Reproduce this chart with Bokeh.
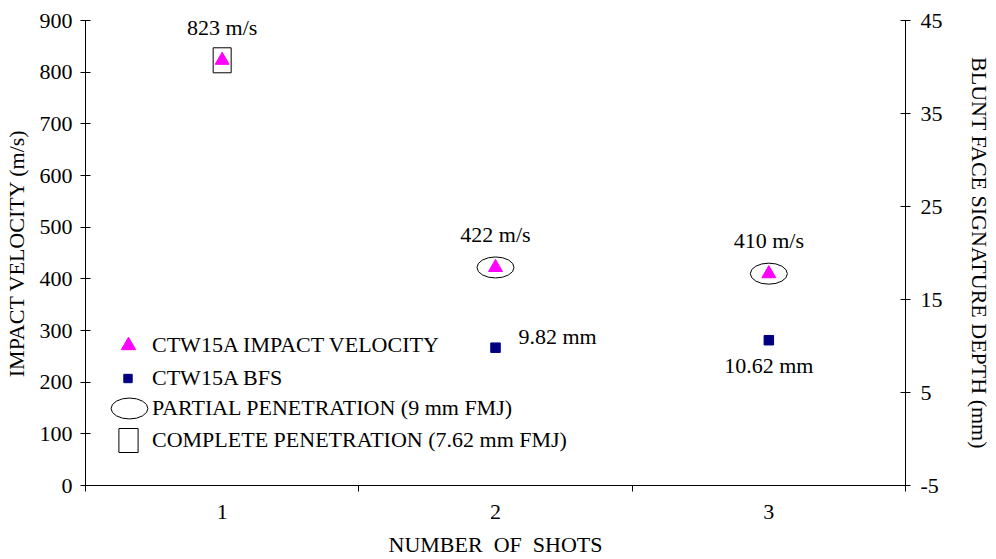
from bokeh.plotting import figure
from bokeh.models import (Range1d, LinearAxis, FixedTicker, Legend, LegendItem)
from bokeh.core.properties import value
from bokeh.embed import file_html
from bokeh.resources import INLINE

# ---- data ----
shots = [1, 2, 3]
velocity = [823, 422, 410]
velocity_labels = ["823 m/s", "422 m/s", "410 m/s"]
bfs_shots = [2, 3]
bfs = [9.82, 10.62]
bfs_labels = ["9.82 mm", "10.62 mm"]
partial_shots = [2, 3]
complete_shots = [1]
left_ticks = [0, 100, 200, 300, 400, 500, 600, 700, 800, 900]
right_ticks = [-5, 5, 15, 25, 35, 45]
x_ticks = [1, 2, 3]
x_minor = [0.5, 1.5, 2.5, 3.5]

FONT = "Liberation Serif"
FS = "22px"

p = figure(width=996, height=559, x_range=Range1d(0.5, 3.5), y_range=Range1d(0, 900),
           output_backend="svg", toolbar_location=None,
           min_border_left=85, min_border_right=91, min_border_top=20, min_border_bottom=74)
p.extra_y_ranges = {"bfs": Range1d(-5, 45)}
p.xgrid.visible = False
p.ygrid.visible = False
p.outline_line_color = None
p.background_fill_color = "white"
p.border_fill_color = "white"

def style_axis(ax):
    ax.axis_line_color = "black"
    ax.major_tick_line_color = "black"
    ax.minor_tick_line_color = "black"
    ax.major_label_text_font = FONT
    ax.major_label_text_font_size = FS
    ax.major_label_text_color = "black"
    ax.axis_label_text_font = FONT
    ax.axis_label_text_font_size = FS
    ax.axis_label_text_font_style = "normal"
    ax.axis_label_text_color = "black"

# x axis
xa = p.xaxis[0]
xa.ticker = FixedTicker(ticks=x_ticks, minor_ticks=x_minor)
xa.major_tick_in = 0
xa.major_tick_out = 0
xa.minor_tick_in = 0
xa.minor_tick_out = 6
xa.major_label_standoff = 13
xa.major_label_text_line_height = 1.0
xa.axis_label = "NUMBER\u00a0 OF\u00a0 SHOTS"
xa.axis_label_standoff = 10
xa.axis_label_text_line_height = 1.0
style_axis(xa)

# left y axis
ya = p.yaxis[0]
ya.ticker = FixedTicker(ticks=left_ticks)
ya.major_tick_in = 5
ya.major_tick_out = 5
ya.minor_tick_in = 0
ya.minor_tick_out = 0
ya.major_label_standoff = 8
ya.axis_label = "IMPACT VELOCITY (m/s)"
ya.axis_label_standoff = 8
style_axis(ya)

# right y axis
ra = LinearAxis(y_range_name="bfs", ticker=FixedTicker(ticks=right_ticks))
ra.major_tick_in = 5
ra.major_tick_out = 5
ra.minor_tick_in = 0
ra.minor_tick_out = 0
ra.major_label_standoff = 10
ra.major_label_overrides = {-5: "-5"}
ra.axis_label = "BLUNT FACE SIGNATURE DEPTH (mm)"
ra.axis_label_standoff = 21
style_axis(ra)
p.add_layout(ra, "right")

# ---- marks ----
vel_r = p.scatter(shots, velocity, marker="triangle", size=14,
                  fill_color="#FF00FF", line_color="#FF00FF")
bfs_r = p.scatter(bfs_shots, bfs, marker="square", size=9.5, y_range_name="bfs",
                  fill_color="#000080", line_color="#000080")

partial_vel = [velocity[shots.index(s)] for s in partial_shots]
complete_vel = [velocity[shots.index(s)] for s in complete_shots]
ell_r = p.ellipse(partial_shots, partial_vel, width=37, height=21,
                  width_units="screen", height_units="screen",
                  fill_color=None, line_color="black", line_width=1)
rect_r = p.rect(complete_shots, complete_vel, width=18, height=25,
                width_units="screen", height_units="screen",
                fill_color=None, line_color="black", line_width=1)

# labels
p.text(shots, velocity, text=velocity_labels, x_offset=0, y_offset=-33,
       text_align="center", text_baseline="middle",
       text_font=value(FONT), text_font_size=FS, text_color="black")
p.text([bfs_shots[0]], [bfs[0]], text=[bfs_labels[0]], y_range_name="bfs",
       x_offset=23, y_offset=-11, text_align="left", text_baseline="middle",
       text_font=value(FONT), text_font_size=FS, text_color="black")
p.text([bfs_shots[1]], [bfs[1]], text=[bfs_labels[1]], y_range_name="bfs",
       x_offset=0, y_offset=25, text_align="center", text_baseline="middle",
       text_font=value(FONT), text_font_size=FS, text_color="black")

# ---- legends ----
def make_legend(label, rend, loc, gw, gh, standoff):
    lg = Legend(items=[LegendItem(label=label, renderers=[rend])], location=loc,
                glyph_width=gw, glyph_height=gh, label_standoff=standoff,
                padding=0, margin=0, spacing=0,
                border_line_alpha=0, background_fill_alpha=0,
                label_text_font=FONT, label_text_font_size=FS, label_text_color="black")
    p.add_layout(lg, "center")

make_legend("CTW15A IMPACT VELOCITY", vel_r, (25, 122), 36, 36, 6)
make_legend("CTW15A BFS", bfs_r, (32, 92), 21, 30, 14)
make_legend("PARTIAL PENETRATION (9 mm FMJ)", ell_r, (21, 54), 46, 46, 0)
make_legend("COMPLETE PENETRATION (7.62 mm FMJ)", rect_r, (31, 30), 24, 30, 12)

open("out.html", "w").write(file_html(p, INLINE))
